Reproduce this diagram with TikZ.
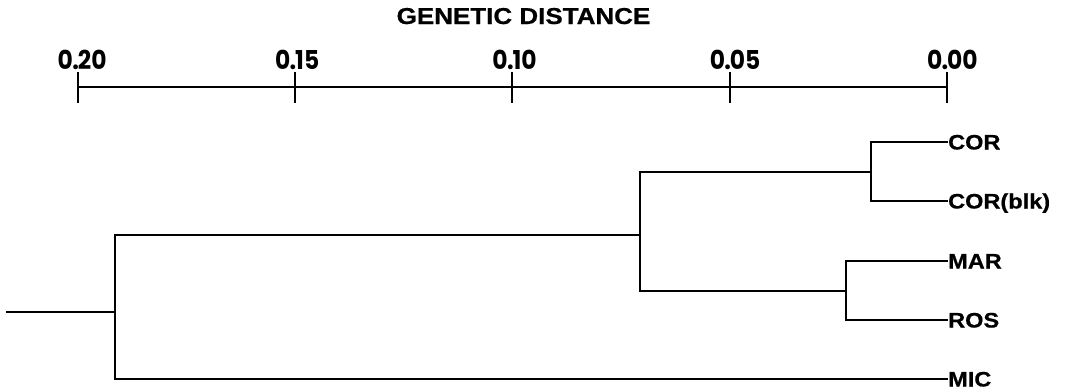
\documentclass[tikz,border=0pt]{standalone}
\usepackage{fontspec}
\usepackage{graphicx}
\setmainfont{Liberation Sans}[BoldFeatures={FakeBold=0.6}]
\newfontfamily\numfont{Poppins}
\newcommand{\leaftxt}[1]{\scalebox{1.12}[1]{#1}}
\newcommand{\numtxt}[1]{\scalebox{0.9}[1]{#1}}
\begin{document}
\begin{tikzpicture}[x=1pt,y=-1pt,
  branch/.style={line width=2.4pt, line cap=rect, line join=miter},
  axisline/.style={line width=2.2pt},
  leaflabel/.style={anchor=base west, inner sep=0pt, font=\fontsize{21}{21}\selectfont\bfseries},
  numlabel/.style={inner sep=0pt, font=\fontsize{26}{26}\numfont\bfseries},
  titlelabel/.style={anchor=base, inner sep=0pt, font=\fontsize{23}{23}\selectfont\bfseries}]
\useasboundingbox (0,0) rectangle (1069,389);

% title
\node[titlelabel] (title) at (523.5,24) {\scalebox{1.13}[1]{GENETIC DISTANCE}};

% axis
\coordinate (t20) at (77.7,87);
\coordinate (t15) at (295,87);
\coordinate (t10) at (512.3,87);
\coordinate (t05) at (729.7,87);
\coordinate (t00) at (947,87);
\draw[axisline] (t20) -- (t00);
\foreach \t in {t20,t15,t10,t05,t00}{
  \draw[axisline] ([yshift=15pt]\t) -- ([yshift=-16pt]\t);
}
% tick labels: integer part, point, decimals
\foreach \t/\d in {t20/20,t15/15,t10/10,t05/05,t00/00}{
  \node[numlabel, anchor=base east] (\t a) at ([xshift=-4.5pt,yshift=18pt]\t) {\numtxt{0}};
  \node[numlabel, anchor=base] (\t b) at ([xshift=-2pt,yshift=18pt]\t) {\numtxt{.}};
  \node[numlabel, anchor=base west] (\t c) at ([xshift=0pt,yshift=18pt]\t) {\numtxt{\d}};
}

% tree
\coordinate (stub) at (7,312);
\coordinate (root) at (115,312);
\coordinate (nA) at (640,235);
\coordinate (nC) at (871,172);
\coordinate (nM) at (846,291);
\coordinate (lCOR) at (947,142);
\coordinate (lCORb) at (947,201);
\coordinate (lMAR) at (947,261);
\coordinate (lROS) at (947,320);
\coordinate (lMIC) at (947,379);

\draw[branch] (stub) -- (root);
\draw[branch] (root) |- (nA);
\draw[branch] (root) |- (lMIC);
\draw[branch] (nA) |- (nC);
\draw[branch] (nA) |- (nM);
\draw[branch] (nC) |- (lCOR);
\draw[branch] (nC) |- (lCORb);
\draw[branch] (nM) |- (lMAR);
\draw[branch] (nM) |- (lROS);

\node[leaflabel] (COR) at ([xshift=1pt,yshift=-7.5pt]lCOR) {\leaftxt{COR}};
\node[leaflabel] (CORb) at ([xshift=1pt,yshift=-7.5pt]lCORb) {\leaftxt{COR(blk)}};
\node[leaflabel] (MAR) at ([xshift=1pt,yshift=-7.5pt]lMAR) {\leaftxt{MAR}};
\node[leaflabel] (ROS) at ([xshift=1pt,yshift=-7.5pt]lROS) {\leaftxt{ROS}};
\node[leaflabel] (MIC) at ([xshift=1pt,yshift=-7.5pt]lMIC) {\leaftxt{MIC}};
\end{tikzpicture}
\end{document}
